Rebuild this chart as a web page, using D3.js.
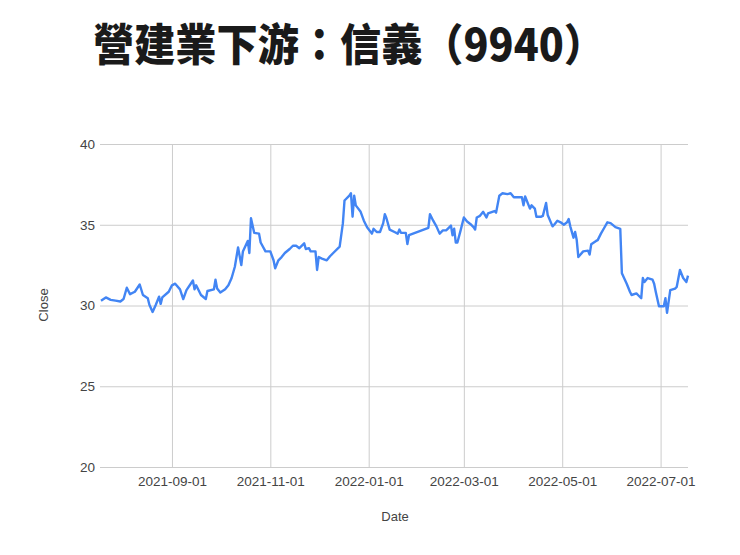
<!DOCTYPE html>
<html>
<head>
<meta charset="utf-8">
<script src="https://cdn.jsdelivr.net/npm/d3@7"></script>
<style>
  body { margin: 0; background: #fff; }
</style>
</head>
<body>
<div id="close_chart"></div>
<script>
// Daily close of 9940
var dates = [
  "2021-07-19","2021-07-22","2021-07-25","2021-07-28","2021-07-31","2021-08-02","2021-08-04","2021-08-06",
  "2021-08-09","2021-08-12","2021-08-14","2021-08-17","2021-08-18","2021-08-20","2021-08-22","2021-08-24",
  "2021-08-25","2021-08-26","2021-08-30","2021-09-01","2021-09-03","2021-09-06","2021-09-08","2021-09-10",
  "2021-09-14","2021-09-15","2021-09-16","2021-09-17","2021-09-19","2021-09-22","2021-09-23","2021-09-27",
  "2021-09-28","2021-09-29","2021-10-01","2021-10-04","2021-10-06","2021-10-08","2021-10-10","2021-10-12",
  "2021-10-14","2021-10-15","2021-10-18","2021-10-19","2021-10-20","2021-10-22","2021-10-25","2021-10-26",
  "2021-10-29","2021-11-01","2021-11-03","2021-11-04","2021-11-06","2021-11-08","2021-11-10","2021-11-13",
  "2021-11-15","2021-11-17","2021-11-19","2021-11-22","2021-11-23","2021-11-25","2021-11-26","2021-11-29",
  "2021-11-30","2021-12-01","2021-12-03","2021-12-06","2021-12-08","2021-12-10","2021-12-14","2021-12-16",
  "2021-12-17","2021-12-20","2021-12-21","2021-12-22","2021-12-23","2021-12-24","2021-12-27","2021-12-29",
  "2021-12-31","2022-01-03","2022-01-04","2022-01-06","2022-01-08","2022-01-10","2022-01-11","2022-01-12",
  "2022-01-14","2022-01-17","2022-01-19","2022-01-20","2022-01-21","2022-01-24","2022-01-25","2022-01-26",
  "2022-02-07","2022-02-08","2022-02-10","2022-02-12","2022-02-14","2022-02-16","2022-02-18","2022-02-19",
  "2022-02-21","2022-02-22","2022-02-23","2022-02-24","2022-02-25","2022-02-27","2022-03-01","2022-03-03",
  "2022-03-05","2022-03-07","2022-03-08","2022-03-09","2022-03-11","2022-03-13","2022-03-15","2022-03-16",
  "2022-03-20","2022-03-21","2022-03-23","2022-03-25","2022-03-28","2022-03-30","2022-04-01","2022-04-06",
  "2022-04-07","2022-04-08","2022-04-11","2022-04-12","2022-04-14","2022-04-15","2022-04-18","2022-04-19",
  "2022-04-21","2022-04-22","2022-04-25","2022-04-26","2022-04-28","2022-04-30","2022-05-02","2022-05-04",
  "2022-05-05","2022-05-06","2022-05-08","2022-05-09","2022-05-10","2022-05-11","2022-05-14","2022-05-17",
  "2022-05-18","2022-05-19","2022-05-22","2022-05-23","2022-05-25","2022-05-27","2022-05-29","2022-05-31",
  "2022-06-03","2022-06-06","2022-06-07","2022-06-10","2022-06-12","2022-06-13","2022-06-16","2022-06-17",
  "2022-06-19","2022-06-20","2022-06-21","2022-06-23","2022-06-26","2022-06-27","2022-06-28","2022-06-30",
  "2022-07-03","2022-07-04","2022-07-05","2022-07-07","2022-07-10","2022-07-11","2022-07-13","2022-07-15",
  "2022-07-17","2022-07-18"
];

var closes = [
  30.3, 30.5, 30.35, 30.3, 30.25, 30.4, 31.1, 30.7,
  30.85, 31.3, 30.65, 30.45, 30.05, 29.6, 30.05, 30.55,
  30.1, 30.5, 30.85, 31.25, 31.35, 31.0, 30.4, 30.95,
  31.55, 31.0, 31.25, 31.05, 30.65, 30.4, 30.9, 31.0,
  31.6, 31.05, 30.8, 31.0, 31.25, 31.7, 32.4, 33.6,
  32.5, 33.35, 34.0, 33.25, 35.4, 34.5, 34.45, 33.9,
  33.35, 33.35, 32.8, 32.3, 32.8, 33.0, 33.25, 33.5,
  33.7, 33.7, 33.55, 33.85, 33.5, 33.55, 33.35, 33.35,
  32.2, 33.0, 32.9, 32.8, 33.05, 33.25, 33.65, 35.1,
  36.5, 36.8, 36.95, 35.5, 36.8, 36.2, 35.8, 35.25,
  34.85, 34.45, 34.75, 34.55, 34.55, 35.1, 35.65, 35.4,
  34.7, 34.55, 34.45, 34.7, 34.5, 34.5, 33.8, 34.35,
  34.8, 35.65, 35.25, 34.9, 34.45, 34.65, 34.65, 34.75,
  34.95, 34.35, 34.75, 33.9, 33.9, 34.65, 35.45, 35.2,
  35.05, 34.85, 34.7, 35.45, 35.55, 35.8, 35.45, 35.7,
  35.85, 35.75, 36.8, 36.95, 36.9, 36.95, 36.7, 36.7,
  36.2, 36.75, 36.0, 36.2, 36.0, 35.5, 35.5, 35.55,
  36.35, 35.6, 34.9, 35.0, 35.25, 35.15, 35.0, 35.15,
  35.35, 34.9, 34.2, 34.55, 34.05, 33.0, 33.35, 33.4,
  33.15, 33.8, 34.0, 34.05, 34.45, 34.8, 35.15, 35.1,
  34.85, 34.75, 32.0, 31.35, 30.85, 30.65, 30.75, 30.65,
  30.45, 31.7, 31.45, 31.7, 31.6, 31.35, 30.85, 29.95,
  29.95, 30.45, 29.55, 30.95, 31.05, 31.15, 32.2, 31.7,
  31.45, 31.85
];

var yTicks = [20, 25, 30, 35, 40];
var xTicks = ["2021-09-01", "2021-11-01", "2022-01-01", "2022-03-01", "2022-05-01", "2022-07-01"];

var title  = "營建業下游：信義（9940）";
var xTitle = "Date",
    yTitle = "Close";

var width  = 740,
    height = 555;

var parse = d3.timeParse("%Y-%m-%d");
var data = dates.map(function(d, i) { return { date: parse(d), close: closes[i] }; });

var svg = d3.select("#close_chart")
            .append("svg")
              .attr("width", width)
              .attr("height", height);

// plot box
var plotLeft = 100, plotRight = 688, plotTop = 144, plotBottom = 467;
var labelFont = "Arial, 'Liberation Sans', sans-serif";

var x = d3.scaleTime()
          .domain(d3.extent(data, function(d) { return d.date; }))
          .range([plotLeft + 1, plotRight]);

var y = d3.scaleLinear()
          .domain([20, 40])
          .range([plotBottom, plotTop]);

// horizontal grid + y labels
svg.append("g")
     .attr("transform", "translate(" + plotLeft + ",0)")
     .call(d3.axisLeft(y).tickValues(yTicks).tickSize(-(plotRight - plotLeft)).tickPadding(5))
     .call(function(g) {
       g.select(".domain").remove();
       g.selectAll("line").attr("stroke", "#cccccc");
       g.selectAll("text")
          .attr("fill", "#444")
          .style("font-family", labelFont)
          .style("font-size", "13.5px");
     });

// vertical grid + date labels
svg.append("g")
     .attr("transform", "translate(0," + plotBottom + ")")
     .call(d3.axisBottom(x)
             .tickValues(xTicks.map(parse))
             .tickFormat(d3.timeFormat("%Y-%m-%d"))
             .tickSize(-(plotBottom - plotTop))
             .tickPadding(9))
     .call(function(g) {
       g.select(".domain").remove();
       g.selectAll("line").attr("stroke", "#cccccc");
       g.selectAll("text")
          .attr("fill", "#444")
          .style("font-family", labelFont)
          .style("font-size", "13.5px");
     });

// close line
var line = d3.line()
             .x(function(d) { return x(d.date); })
             .y(function(d) { return y(d.close); });

svg.append("path")
     .datum(data)
     .attr("d", line)
     .attr("fill", "none")
     .attr("stroke", "#4285f4")
     .attr("stroke-width", 2.4)
     .attr("stroke-linejoin", "round");

// axis titles
svg.append("text")
     .attr("x", 395)
     .attr("y", 521)
     .attr("text-anchor", "middle")
     .attr("fill", "#444")
     .style("font-family", labelFont)
     .style("font-size", "13px")
     .text(xTitle);

svg.append("text")
     .attr("transform", "translate(48,305) rotate(-90)")
     .attr("text-anchor", "middle")
     .attr("fill", "#444")
     .style("font-family", labelFont)
     .style("font-size", "13px")
     .text(yTitle);

// big title
svg.append("text")
     .attr("x", 93)
     .attr("y", 61)
     .attr("textLength", 512)
     .attr("lengthAdjust", "spacingAndGlyphs")
     .attr("fill", "#1a1a1a")
     .style("font-family", "'Noto Sans CJK TC', sans-serif")
     .style("font-weight", 900)
     .style("font-size", "44px")
     .text(title);
</script>
</body>
</html>
